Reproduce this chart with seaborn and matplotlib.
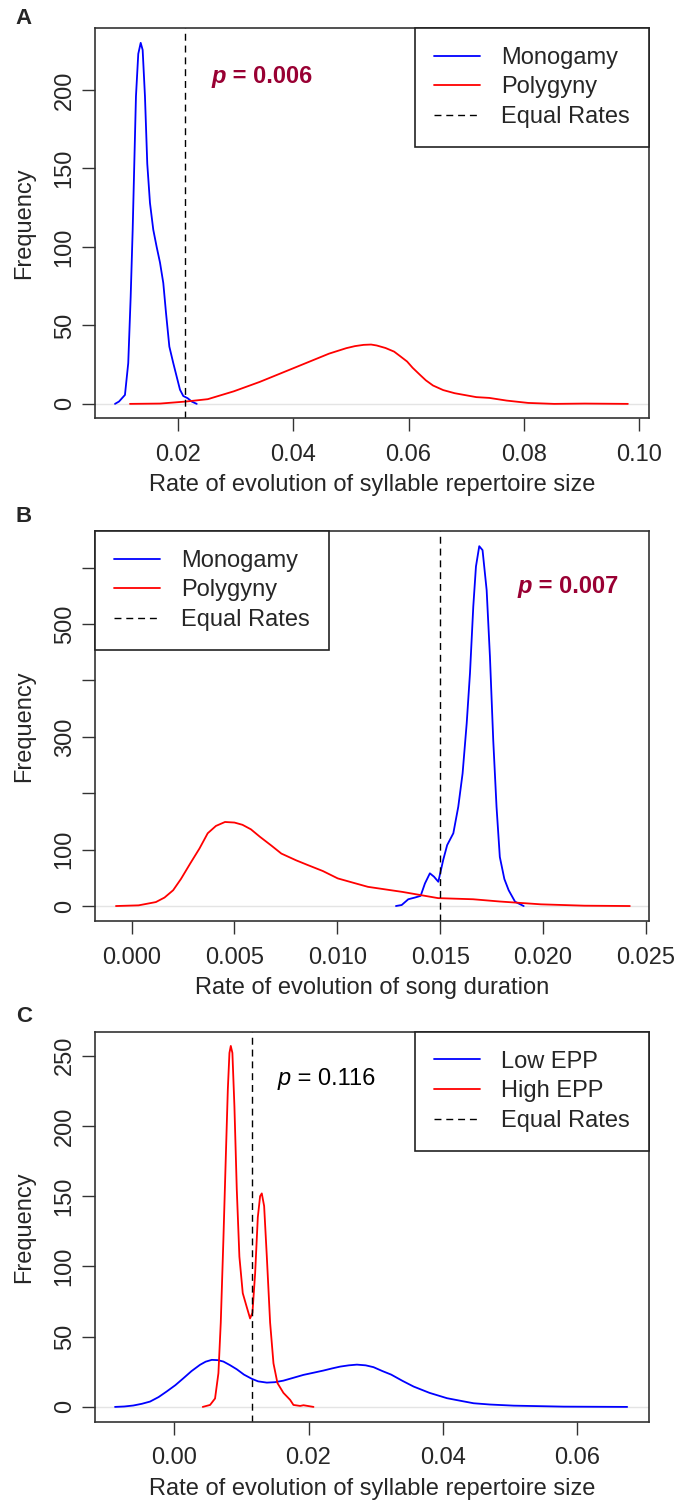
import numpy as np
import pandas as pd
import seaborn as sns
import matplotlib.pyplot as plt

# ---- data (rate, frequency) ----
# panel A: syllable repertoire size, mating system
a_mono_x = [0.00907, 0.00977, 0.0108, 0.01137, 0.01179, 0.01214, 0.01242, 0.01271,
            0.01311, 0.01353, 0.01387, 0.01427, 0.01467, 0.01514, 0.01571, 0.0163,
            0.01688, 0.01745, 0.01792, 0.0185, 0.01918, 0.01977, 0.02035, 0.02092,
            0.02168, 0.02238, 0.02325]
a_mono_y = [0, 1.5, 5.7, 26, 68, 111, 153, 196, 223, 230, 225.5, 196, 153, 128, 111,
            100, 90, 77, 58, 36.5, 26, 17.4, 9, 5, 3.6, 1.5, 0]
a_poly_x = [0.01167, 0.0169, 0.0214, 0.02517, 0.02968, 0.03418, 0.0402, 0.0462,
            0.0492, 0.0507, 0.05221, 0.0535, 0.05447, 0.056, 0.05749, 0.0585,
            0.05974, 0.0607, 0.06198, 0.063, 0.06424, 0.066, 0.06799, 0.07175,
            0.07401, 0.07701, 0.08076, 0.08525, 0.09053, 0.09804]
a_poly_y = [0, 0.2, 1.5, 3, 8, 14, 23, 32, 35.5, 36.8, 37.6, 37.8, 37.2, 35.6, 33.3,
            30.5, 27, 23, 18.5, 15, 11.7, 8.8, 6.8, 4.3, 3.8, 2.1, 0.6, 0, 0.2, 0]
a_equal = 0.0212
a_xticks = [0.02, 0.04, 0.06, 0.08, 0.10]
a_xlabels = ["0.02", "0.04", "0.06", "0.08", "0.10"]
a_yticks = [0, 50, 100, 150, 200]
a_ylabels = ["0", "50", "100", "150", "200"]

# panel B: song duration, mating system
b_mono_x = [0.01285, 0.01313, 0.01345, 0.01377, 0.01405, 0.01426, 0.0145, 0.0147,
            0.01491, 0.01515, 0.01534, 0.01564, 0.01588, 0.01609, 0.01629, 0.01645,
            0.01661, 0.01674, 0.0169, 0.01706, 0.01726, 0.01742, 0.01758, 0.01774,
            0.0179, 0.01812, 0.01833, 0.01864, 0.01906]
b_mono_y = [0, 1.8, 12, 15, 18, 40, 58, 52, 43, 82, 108, 129, 176, 235, 324, 413,
            531, 602, 638, 631, 560, 442, 294, 176, 87, 48, 28, 7.7, 0]
b_poly_x = [-0.00076, 0.00034, 0.00118, 0.0016, 0.00202, 0.0024, 0.00286, 0.0033,
            0.0037, 0.0041, 0.00454, 0.005, 0.00539, 0.0058, 0.00623, 0.0068,
            0.00728, 0.008, 0.00854, 0.0093, 0.01002, 0.0108, 0.01149, 0.01317,
            0.0149, 0.0166, 0.0179, 0.0199, 0.02201, 0.02422]
b_poly_y = [0, 1.2, 7, 15, 28, 48, 76, 102, 129, 142, 149, 148, 144, 136, 123, 107,
            93, 81, 73, 62, 49, 41, 34, 25, 14, 12, 8, 3, 0.6, 0]
b_equal = 0.0150
b_xticks = [0.000, 0.005, 0.010, 0.015, 0.020, 0.025]
b_xlabels = ["0.000", "0.005", "0.010", "0.015", "0.020", "0.025"]
b_yticks = [0, 100, 200, 300, 400, 500, 600]
b_ylabels = ["0", "100", "", "300", "", "500", ""]

# panel C: syllable repertoire size, extra-pair paternity
c_low_x = [-0.00878, -0.0074, -0.00606, -0.0048, -0.00357, -0.0023, -0.00109,
           0.0002, 0.00139, 0.0026, 0.00387, 0.0047, 0.00561, 0.0065, 0.00734,
           0.0083, 0.00933, 0.0104, 0.01157, 0.0125, 0.0138, 0.015, 0.01627,
           0.0178, 0.01925, 0.0208, 0.02223, 0.0235, 0.02471, 0.026, 0.0272,
           0.0285, 0.02967, 0.031, 0.0323, 0.034, 0.03563, 0.038, 0.0406, 0.043,
           0.04456, 0.047, 0.05052, 0.05796, 0.0674]
c_low_y = [0, 0.3, 1, 2.2, 3.8, 7, 11, 15.5, 20.4, 25.5, 30, 32.2, 33.5, 33.3, 32.3,
           29.8, 26.8, 23, 20, 18.2, 17.3, 17.6, 18.7, 20.8, 22.8, 24.4, 25.9, 27.4,
           28.7, 29.6, 30.1, 29.6, 28.3, 25.5, 23, 18.5, 14.5, 10, 6.2, 4, 2.6, 1.7,
           0.9, 0.2, 0]
c_high_x = [0.00427, 0.00536, 0.0061, 0.0066, 0.00695, 0.00734, 0.0077, 0.008,
            0.00824, 0.00844, 0.00868, 0.00898, 0.00933, 0.00972, 0.01022, 0.01082,
            0.01131, 0.01166, 0.01206, 0.01246, 0.0128, 0.01305, 0.0134, 0.0138,
            0.01429, 0.01479, 0.01538, 0.01627, 0.01727, 0.01776, 0.01876, 0.01925,
            0.02074]
c_high_y = [0, 1.4, 6, 24, 60, 119, 178, 226, 252, 257, 252, 214, 155, 107, 81, 71,
            63, 67, 95, 135, 150, 152, 143, 107, 60, 31, 17, 10, 5, 1.4, 0.7, 1.2, 0]
c_equal = 0.0116
c_xticks = [0.00, 0.02, 0.04, 0.06]
c_xlabels = ["0.00", "0.02", "0.04", "0.06"]
c_yticks = [0, 50, 100, 150, 200, 250]
c_ylabels = ["0", "50", "100", "150", "200", "250"]

sns.set_style("ticks")
plt.rcParams['font.family'] = ['Liberation Sans', 'DejaVu Sans']
FS = 17
DARKRED = '#990033'


def draw_panel(ax, x1, y1, x2, y2, lab1, lab2, equal, legend_loc):
    """Draw two density curves, the equal-rate line and the legend."""
    ax.axhline(0, color='#e4e4e4', lw=1, zorder=0)
    sns.lineplot(x=x1, y=y1, color='#0000ff', lw=1.3, sort=False,
                 estimator=None, ax=ax, label=lab1)
    sns.lineplot(x=x2, y=y2, color='#ff0000', lw=1.3, sort=False,
                 estimator=None, ax=ax, label=lab2)
    ax.axvline(equal, color='black', lw=1.0, linestyle=(0, (5, 3.5)),
               label='Equal Rates')
    handles, labels = ax.get_legend_handles_labels()
    leg = ax.legend(handles, labels, loc=legend_loc, borderaxespad=0,
                    fontsize=FS, fancybox=False, framealpha=1,
                    edgecolor='#222222', borderpad=0.8, labelspacing=0.32,
                    handlelength=1.95, handletextpad=0.9)
    leg.get_frame().set_linewidth(1.2)
    ax.set_ylabel('Frequency', fontsize=FS)
    ax.yaxis.set_label_coords(-0.108, 0.5)
    ax.tick_params(axis='both', labelsize=FS, length=9.4, width=1.0,
                   color='#333333', direction='out')
    ax.tick_params(axis='x', pad=9)
    ax.tick_params(axis='y', pad=4.5)
    for sp in ax.spines.values():
        sp.set_color('#333333')
        sp.set_linewidth(1.2)


def set_axis(ax, xlim, ylim, xticks, xlabels, yticks, ylabels, xtitle):
    ax.set_xlim(*xlim)
    ax.set_ylim(*ylim)
    ax.set_xticks(xticks)
    ax.set_xticklabels(xlabels)
    ax.set_yticks(yticks)
    ax.set_yticklabels(ylabels, rotation=90, va='center', ha='right')
    ax.set_xlabel(xtitle, fontsize=FS, labelpad=6)


def p_label(ax, x, y, rest, bold, color):
    weight = 'bold' if bold else 'normal'
    t = ax.text(x, y, 'p', transform=ax.transAxes, fontsize=FS,
                style='italic', weight=weight, color=color, va='baseline')
    ax.annotate(rest, xy=(1, 0), xycoords=t, va='bottom', ha='left',
                fontsize=FS, weight=weight, color=color)


fig = plt.figure(figsize=(6.76, 15.02), dpi=100)
ax_a = fig.add_axes([0.1405, 0.7217, 0.8195, 0.2597])
ax_b = fig.add_axes([0.1405, 0.3868, 0.8195, 0.2597])
ax_c = fig.add_axes([0.1405, 0.0533, 0.8195, 0.2597])

# panel A
draw_panel(ax_a, a_mono_x, a_mono_y, a_poly_x, a_poly_y,
           'Monogamy', 'Polygyny', a_equal, 'upper right')
set_axis(ax_a, (0.0056, 0.1017), (-9.0, 239.5), a_xticks, a_xlabels,
         a_yticks, a_ylabels, 'Rate of evolution of syllable repertoire size')
p_label(ax_a, 0.211, 0.860, ' = 0.006', True, DARKRED)

# panel B
draw_panel(ax_b, b_mono_x, b_mono_y, b_poly_x, b_poly_y,
           'Monogamy', 'Polygyny', b_equal, 'upper left')
set_axis(ax_b, (-0.00178, 0.02515), (-26.6, 665), b_xticks, b_xlabels,
         b_yticks, b_ylabels, 'Rate of evolution of song duration')
p_label(ax_b, 0.7635, 0.840, ' = 0.007', True, DARKRED)

# panel C
draw_panel(ax_c, c_low_x, c_low_y, c_high_x, c_high_y,
           'Low EPP', 'High EPP', c_equal, 'upper right')
set_axis(ax_c, (-0.01176, 0.07064), (-10.7, 267), c_xticks, c_xlabels,
         c_yticks, c_ylabels, 'Rate of evolution of syllable repertoire size')
p_label(ax_c, 0.330, 0.865, ' = 0.116', False, 'black')

for letter, ypix in [('A', 18), ('B', 517), ('C', 1017)]:
    fig.text(24 / 676, 1 - ypix / 1502, letter, fontsize=16, weight='bold',
             ha='center', va='center')

fig.savefig('out.png', dpi=100)
